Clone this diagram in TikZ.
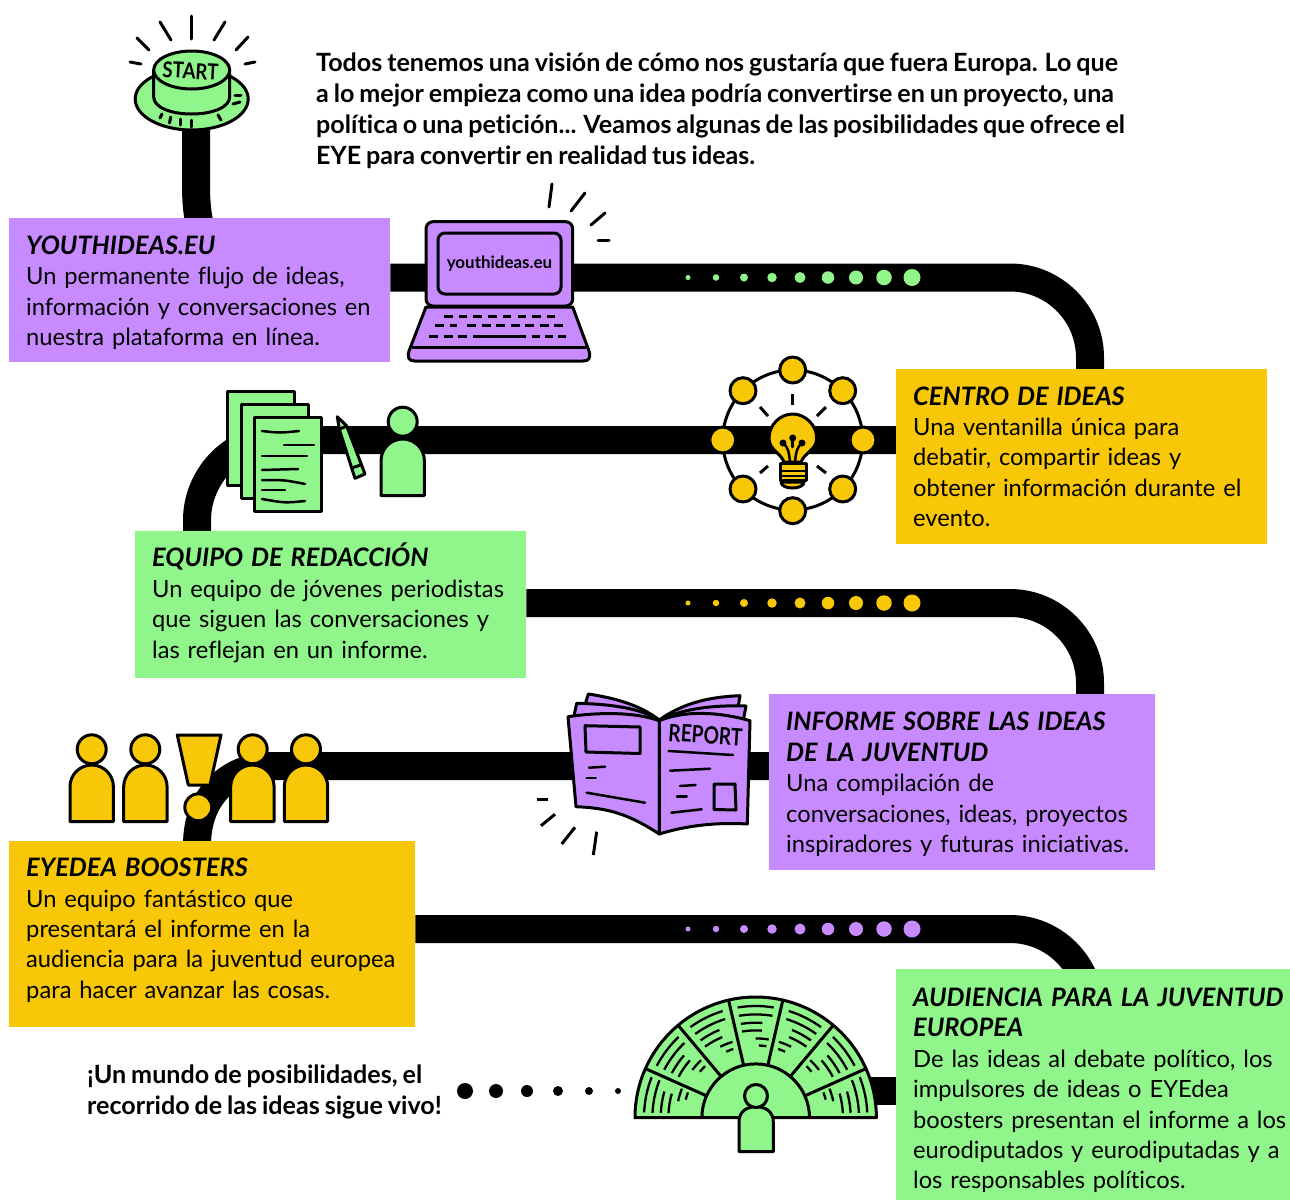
\documentclass[tikz,border=0pt]{standalone}
\usepackage{fontspec}
\usepackage{graphicx}
\setmainfont[WordSpace=0.8,Ligatures=NoCommon]{Lato}
\usetikzlibrary{backgrounds}
\definecolor{gr}{RGB}{144,245,138}
\definecolor{pu}{RGB}{199,139,255}
\definecolor{ye}{RGB}{248,200,8}
\tikzset{
  road/.style={line width=28bp,black},
  ol/.style={line width=3bp,black,line join=round},
  tick/.style={line width=3bp,black,line cap=round},
  seat/.style={line width=2.3bp,black},
  infobox/.style={anchor=north west,inner xsep=17bp,inner ysep=0pt,align=left,font=\fontsize{23.8}{30.5}\selectfont},
  plain/.style={anchor=north west,inner sep=0pt,align=left,font=\fontsize{25.2}{31}\selectfont\bfseries},
}
\newcommand\ttl[1]{{\fontsize{25.5}{30.5}\selectfont\bfseries\itshape #1}}
\newcommand\tallstrut[1]{\rule{0pt}{#1bp}}
\newcommand\deepstrut[1]{\rule[-#1bp]{0pt}{1bp}}
% head x, head y, body left, top, color
\newcommand\personicon[5]{%
  \draw[ol,fill=#5] (#3,#4+56.5) -- (#3,#4+21.7) .. controls (#3,#4+9.7) and (#3+9.7,#4) .. (#3+21.7,#4)
    .. controls (#3+33.7,#4) and (#3+43.4,#4+9.7) .. (#3+43.4,#4+21.7) -- (#3+43.4,#4+56.5) -- cycle;
  \draw[ol,fill=#5] (#1,#2) circle[radius=14.5bp];}
\newcommand\seatarc[3]{\draw[seat] ({755.7+#1*cos(#2)},{1117.7-#1*sin(#2)}) arc[start angle=#2,end angle=#3,radius=#1 bp];}
\begin{document}
\begin{tikzpicture}[x=1bp,y=-1bp]
\useasboundingbox (0,0) rectangle (1290,1200);
% boxes
\node[infobox,fill=pu,minimum width=381bp,minimum height=144bp,text width=347bp] (yi) at (9,218)
 {\tallstrut{24}\ttl{YOUTHIDEAS.EU}\\Un permanente flujo de ideas,\\información y conversaciones en\\nuestra plataforma en línea.};
\node[infobox,fill=ye,minimum width=371bp,minimum height=175bp,text width=337bp] (ci) at (896,369)
 {\ttl{CENTRO DE IDEAS}\\Una ventanilla única para\\debatir, compartir ideas y\\obtener información durante el\\evento.};
\node[infobox,fill=gr,minimum width=391bp,minimum height=147bp,text width=357bp] (eq) at (135,531)
 {\ttl{EQUIPO DE REDACCIÓN}\\Un equipo de jóvenes periodistas\\que siguen las conversaciones y\\las reflejan en un informe.\deepstrut{8}};
\node[infobox,fill=pu,minimum width=386bp,minimum height=176bp,text width=352bp] (inf) at (769,694)
 {\tallstrut{23}\ttl{INFORME SOBRE LAS IDEAS}\\\ttl{DE LA JUVENTUD}\\Una compilación de\\conversaciones, ideas, proyectos\\inspiradores y futuras iniciativas.};
\node[infobox,fill=ye,minimum width=406bp,minimum height=186bp,text width=372bp] (eb) at (9,841)
 {\ttl{EYEDEA BOOSTERS}\\Un equipo fantástico que\\presentará el informe en la\\audiencia para la juventud europea\\para hacer avanzar las cosas.\deepstrut{12}};
\node[infobox,fill=gr,minimum width=394bp,minimum height=231bp,text width=377bp,inner xsep=17bp] (au) at (896,969)
 {\tallstrut{30}\ttl{AUDIENCIA PARA LA JUVENTUD}\\\ttl{EUROPEA}\\De las ideas al debate político, los\\impulsores de ideas o EYEdea\\boosters presentan el informe a los\\eurodiputados y eurodiputadas y a\\los responsables políticos.};
\node[plain] (intro) at (316,52.5) {Todos tenemos una visión de cómo nos gustaría que fuera Europa. Lo que\\a lo mejor empieza como una idea podría convertirse en un proyecto, una\\política o una petición... Veamos algunas de las posibilidades que ofrece el\\EYE para convertir en realidad tus ideas.};
\node[plain] (outro) at (87,1064.5) {¡Un mundo de posibilidades, el\\recorrido de las ideas sigue vivo!};
\coordinate (st) at (196,100);
\coordinate (am) at (860,1091);
% road
\begin{pgfonlayer}{background}
\draw[road] (st) -- (196,185) .. controls (196,200) and (197,210) .. (199,222);
\draw[road] (yi.east |- 0,277.5) -- (1010,277.5) .. controls (1054,277.5) and (1090,313.5) .. (1090,357.5) -- (ci.north -| 1090,0);
\draw[road] (ci.west |- 0,440) -- (272,440) .. controls (231,440) and (197,478) .. (197,520) -- (eq.north -| 197,0);
\draw[road] (eq.east |- 0,603) -- (1010,603) .. controls (1054,603) and (1090,639) .. (1090,683) -- (inf.north -| 1090,0);
\draw[road] (inf.west |- 0,766) -- (272,766) .. controls (231,766) and (197,795) .. (197,845);
\draw[road] (eb.east |- 0,929) -- (1010,929) .. controls (1054,929) and (1090,965) .. (1090,1009);
\draw[road] (am) -- (au.west |- am);
\end{pgfonlayer}
% road dots
\foreach \i [evaluate=\i as \xx using 688+28*\i, evaluate=\i as \rr using 2.5+0.75*\i] in {0,...,8}{
  \fill[gr] (\xx,277.5) circle[radius=\rr bp];
  \fill[ye] (\xx,603) circle[radius=\rr bp];
  \fill[pu] (\xx,929) circle[radius=\rr bp];
}
\foreach \xx/\rr in {465/8,496/7,527/6,558/5,589/4,618/3}{\fill (\xx,1091) circle[radius=\rr bp];}
% start button
\draw[ol,fill=gr] (191.7,99) ellipse[x radius=56.5bp,y radius=31bp];
\draw[ol,fill=gr] (153.7,70) -- (153.7,97) .. controls (153.7,107) and (170,114) .. (191.7,114) .. controls (213,114) and (229.7,107) .. (229.7,97) -- (229.7,70);
\draw[ol,fill=gr] (191.7,70) ellipse[x radius=38bp,y radius=19bp];
\node[font=\fontsize{22}{22}\selectfont\bfseries,rotate=-3,inner sep=0pt] (starttxt) at (190.5,71) {\scalebox{0.85}[1]{START}};
\foreach \a/\b/\c/\d in {191.7/16/191.7/39,160/22/171/40,137/38/149/50,130/62/141/64,225/22/214/40,248/37/236/50,255/62/245/64,
 160/118/162/114,169.5/123/170.7/117,180/125/180/119,191.7/127/191.7/120,221/120/218/115,233/104/240/102,235/95/241/95}
 {\draw[tick] (\a,\b) -- (\c,\d);}
% laptop
\draw[ol,fill=pu] (426,307) -- (572.7,307) -- (589,351) .. controls (591,358) and (589,361) .. (583,361) -- (415,361) .. controls (409,361) and (407,358) .. (409,351) -- cycle;
\draw[ol] (412,347.7) -- (586,347.7);
\draw[ol,fill=pu,rounded corners=7bp] (426,221.7) rectangle (572.7,306);
\node[draw,ol,fill=pu,rounded corners=7bp,minimum width=123bp,minimum height=61bp,inner sep=0pt,font=\fontsize{17}{17}\selectfont\bfseries] (screen) at (499.5,263.5) {\raisebox{-1.5bp}{youthideas.eu}};
\draw[line width=3bp,dash pattern=on 8.5bp off 6.2bp] (444,316) -- (555,316);
\draw[line width=3bp,dash pattern=on 9bp off 5.5bp] (435,325) -- (457,325) (467,325) -- (563,325);
\draw[line width=3bp,dash pattern=on 9bp off 5.5bp] (429,336.7) -- (468,336.7);
\draw[line width=3bp] (473,336.7) -- (526,336.7);
\draw[line width=3bp,dash pattern=on 8bp off 5bp] (532,336.7) -- (570,336.7);
\foreach \a/\b/\c/\d in {552/184/549/207,585/193/571/211,605/213/591/225,598/240/609/240}
 {\draw[tick] (\a,\b) -- (\c,\d);}
% idea hub
\draw[ol] (792.7,440) circle[radius=70bp];
\foreach \a/\b in {743/390.7,842.7/390.7,792.7/370,792.7/510.7,743/489,842.7/489,722.7/440,863/440}
 {\draw[ol,fill=ye] (\a,\b) circle[radius=13bp];}
\foreach \a/\b/\c/\d in {792.7/394/792.7/405,760/407/768/416,826/407/817/416,760/473/768/466,826/473/817/466}
 {\draw[tick,line cap=butt] (\a,\b) -- (\c,\d);}
\draw[ol,fill=ye] (781,482) .. controls (781,490) and (804,490) .. (804,482) -- cycle;
\draw[ol,fill=ye] (784,462) .. controls (780,452) and (769,450) .. (769,438) .. controls (769,425) and (780,414) .. (792.7,414)
  .. controls (805,414) and (816.7,425) .. (816.7,438) .. controls (816.7,450) and (805,452) .. (801,462) -- cycle;
\draw[ol,fill=ye] (780,463) rectangle (806,480);
\draw[line width=2.5bp] (780,471) -- (806,471);
\draw[line width=2.5bp] (780,476) -- (806,476);
\draw[line width=2.5bp,line cap=round] (790,462) .. controls (789,452) and (788,447) .. (783,443);
\draw[line width=2.5bp,line cap=round] (795,462) .. controls (796,452) and (797,447) .. (802,443);
\draw[line width=2.5bp,line cap=round] (792.7,447) -- (792.7,438);
\fill (783,443) circle[radius=3.5bp] (792.7,438) circle[radius=3.5bp] (802,443) circle[radius=3.5bp];
% papers
\draw[ol,fill=gr] (227,391) rectangle (294,485);
\draw[ol,fill=gr] (241,404) rectangle (308,498);
\draw[ol,fill=gr] (254.5,417) rectangle (321.5,511.5);
\foreach \a/\b/\c/\d/\e/\f in {262/431/299/431/280/433,284/445/314/445/300/445,262/456/307/456/285/456,262/470/298/469/280/470,262/480/305/484/285/480,262/490/285/490/275/490,262/499/305/501/285/503}
 {\draw[line width=2.5bp,line cap=round] (\a,\b) .. controls (\e,\f) .. (\c,\d);}
% pencil
\draw[ol,fill=gr] (337.3,416.7) -- (346.7,426) -- (365,474) -- (355,478.3) -- (339.3,429.3) -- cycle;
\draw[ol] (339.3,429.3) -- (346.7,426) (351.7,468) -- (360.7,465);
\personicon{402.7}{421.7}{381}{439}{gr}
% newspaper
\draw[ol,fill=pu] (659.3,720) .. controls (640,705) and (615,698) .. (588.3,694) -- (585,705) -- (650,720) -- cycle;
\draw[ol,fill=pu] (659.3,720) .. controls (640,708) and (610,704) .. (576.7,703.3) -- (574,716) -- (650,722) -- cycle;
\draw[ol,fill=pu] (659.3,720) .. controls (680,705) and (705,697) .. (740,695.7) -- (738,708) -- (665,722) -- cycle;
\draw[ol,fill=pu] (659.3,720) .. controls (685,708) and (715,705) .. (746,706) -- (743,722) -- (665,722) -- cycle;
\draw[ol,fill=pu] (568,716.7) .. controls (600,712) and (635,712) .. (659.3,720.7) -- (659.3,834) .. controls (630,815) and (610,808) .. (576,806.7) -- cycle;
\draw[ol,fill=pu] (659.3,720.7) .. controls (685,710) and (720,712) .. (750,720.7) -- (747.3,824) .. controls (715,822) and (685,826) .. (659.3,834) -- cycle;
\draw[ol] (585,725.7) -- (640,727) -- (640,753.5) -- (586,752) -- cycle;
\draw[ol] (714,784) -- (735,784) -- (736,810) -- (714,809.5) -- cycle;
\foreach \a/\b/\c/\d in {589/767.7/605/766.7,586.7/778/595.7/778,586.7/792.7/645/802.7,668.7/751/733/755,670/770.7/710/768.7,680/786/695.7/785,677/796.7/686.7/796.7,671.3/812.7/701.7/809.3}
 {\draw[tick,line width=2.5bp] (\a,\b) -- (\c,\d);}
\node[font=\fontsize{24}{24}\selectfont\bfseries,rotate=-4,inner sep=0pt] (reptxt) at (705.5,735) {\scalebox{0.8}[1]{REPORT}};
\foreach \a/\b/\c/\d in {537.3/799/548.3/799,541/825.7/555/814.3,561.7/844/575/827.3,593.3/855/596.7/831.7}
 {\draw[tick,line cap=butt] (\a,\b) -- (\c,\d);}
% boosters
\personicon{91.7}{749.3}{70}{765}{ye}
\personicon{145.3}{749.3}{123.7}{765}{ye}
\personicon{252.7}{749.3}{230.7}{765}{ye}
\personicon{306}{749.3}{284.3}{765}{ye}
\draw[ol,fill=ye] (177.3,735) -- (221,735) -- (210,785) -- (188.3,785) -- cycle;
\draw[ol,fill=ye] (198.3,807.3) circle[radius=13.5bp];
% hemicycle
\draw[ol,fill=gr] (635,1117.7) arc[start angle=180,end angle=0,radius=120.7bp] -- cycle;
\foreach \c/\s in {12/-1,37/-1,63.5/-1,90/1,116.5/1,143/1,168/1}{
  \pgfmathsetmacro\aa{\c-9.3}\pgfmathsetmacro\ab{\c+9.3}
  \pgfmathsetmacro\ac{\c-\s*4}\pgfmathsetmacro\ad{\c+\s*9}
  \pgfmathsetmacro\ae{\c-\s*9.5}\pgfmathsetmacro\af{\c}
  \pgfmathsetmacro\ag{\c-\s*8.5}\pgfmathsetmacro\ah{\c-\s*2.5}
  \seatarc{111.7}{\aa}{\ab}\seatarc{103.3}{\aa}{\ab}
  \seatarc{95}{\ac}{\ad}\seatarc{87.3}{\ac}{\ad}
  \seatarc{79.3}{\ae}{\af}\seatarc{72.3}{\ag}{\ah}
}
\foreach \a in {24,50,77,103,130,156}{
  \draw[ol] ({755.7+53.8*cos(\a)},{1117.7-53.8*sin(\a)}) -- ({755.7+120.7*cos(\a)},{1117.7-120.7*sin(\a)});
}
\draw[ol,fill=gr] (701.9,1117.7) arc[start angle=180,end angle=0,radius=53.8bp];
\draw[ol] (635,1117.7) -- (876.4,1117.7);
\draw[ol,fill=gr] (739,1151.7) -- (739,1122) .. controls (739,1112) and (746,1106.7) .. (756,1106.7) .. controls (766,1106.7) and (773.3,1112) .. (773.3,1122) -- (773.3,1151.7) -- cycle;
\draw[ol,fill=gr] (756,1096) circle[radius=11.5bp];
\end{tikzpicture}
\end{document}
